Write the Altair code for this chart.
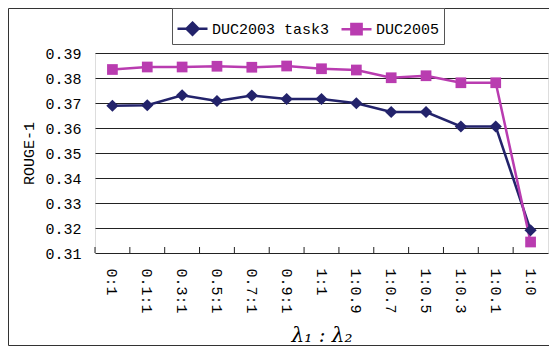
import altair as alt
import pandas as pd

# ---- data ----
lam = ["0:1", "0.1:1", "0.3:1", "0.5:1", "0.7:1", "0.9:1", "1:1",
       "1:0.9", "1:0.7", "1:0.5", "1:0.3", "1:0.1", "1:0"]
duc2003 = [0.3689, 0.3691, 0.3731, 0.3708, 0.3730, 0.3716, 0.3716,
           0.3699, 0.3664, 0.3664, 0.3606, 0.3606, 0.3191]
duc2005 = [0.3834, 0.3844, 0.3844, 0.3847, 0.3843, 0.3848, 0.3837,
           0.3832, 0.3801, 0.3809, 0.3781, 0.3781, 0.3144]
series_names = ["DUC2003 task3", "DUC2005"]
y_ticks = [0.31, 0.32, 0.33, 0.34, 0.35, 0.36, 0.37, 0.38, 0.39]

colors = ["#23236b", "#b93cb0"]
shapes = ["diamond", "square"]
legend_paths = [
    "M-1,0H1M0,-0.4L0.4,0L0,0.4L-0.4,0Z",
    "M-1,0H1M-0.34,-0.34H0.34V0.34H-0.34Z",
]

rows = []
for i, l in enumerate(lam):
    rows.append({"lam": l, "idx": i, "series": series_names[0], "value": duc2003[i]})
for i, l in enumerate(lam):
    rows.append({"lam": l, "idx": i, "series": series_names[1], "value": duc2005[i]})
df = pd.DataFrame(rows)

FONT = "Liberation Mono"

x_enc = alt.X("lam:N", sort=lam,
              scale=alt.Scale(type="band", paddingInner=0, paddingOuter=0),
              axis=alt.Axis(title="λ₁ : λ₂", labelAngle=90, labelAlign="left",
                            labelBaseline="middle", labelPadding=15, ticks=False,
                            domain=False, grid=False, labelFont=FONT, labelFontSize=15,
                            labelColor="black", titleFont="DejaVu Serif",
                            titleFontStyle="italic", titleFontWeight="normal",
                            titleFontSize=20, titleColor="black", titlePadding=12))
y_enc = alt.Y("value:Q",
              scale=alt.Scale(domain=[0.31, 0.39], zero=False, nice=False),
              axis=alt.Axis(title="ROUGE-1", values=y_ticks, format=".2f",
                            ticks=False, domain=False, grid=True, gridColor="#222",
                            gridWidth=1, gridOpacity=1, labelPadding=14,
                            labelFont=FONT, labelFontSize=15, labelColor="black",
                            titleFont=FONT, titleFontSize=15, titleFontWeight="normal",
                            titleColor="black", titlePadding=8))

cscale = alt.Scale(domain=series_names, range=colors)

base = alt.Chart(df)

lines = base.mark_line(strokeWidth=2.5).encode(
    x=x_enc, y=y_enc,
    color=alt.Color("series:N", scale=cscale, legend=None),
    order="idx:Q",
)

points = base.mark_point(filled=True, opacity=1, strokeWidth=1).encode(
    x=x_enc, y=y_enc,
    color=alt.Color("series:N", scale=cscale, legend=None),
    shape=alt.Shape("series:N", scale=alt.Scale(domain=series_names, range=shapes), legend=None),
    size=alt.Size("series:N", scale=alt.Scale(domain=series_names, range=[150, 115]), legend=None),
)

leg = alt.Legend(orient="none", legendX=77, legendY=-45, direction="horizontal",
                 title=None, symbolSize=900, symbolStrokeWidth=2.5,
                 labelFont=FONT, labelFontSize=15, labelColor="black",
                 labelOffset=3, columnPadding=6, padding=4,
                 strokeColor="#555", fillColor="white")

legend_layer = base.transform_filter("false").mark_point(filled=True, opacity=1).encode(
    x=x_enc, y=y_enc,
    color=alt.Color("series:N", scale=alt.Scale(domain=series_names, range=colors), legend=leg),
    stroke=alt.Stroke("series:N", scale=alt.Scale(domain=series_names, range=colors), legend=leg),
    shape=alt.Shape("series:N", scale=alt.Scale(domain=series_names, range=legend_paths), legend=leg),
)

ticks_df = pd.DataFrame({"lam": lam})
tick_rules = alt.Chart(ticks_df).mark_rule(color="#222", strokeWidth=1).encode(
    x=alt.X("lam:N", sort=lam, bandPosition=0,
            scale=alt.Scale(type="band", paddingInner=0, paddingOuter=0)),
    y=alt.value(200), y2=alt.value(194),
)

frame = alt.Chart(pd.DataFrame({"k": [0]})).mark_rect(
    fill=None, stroke="#333", strokeWidth=1
).encode(x=alt.value(-86.5), x2=alt.value(470), y=alt.value(-44.5), y2=alt.value(292.5))

chart = alt.layer(frame, tick_rules, lines, points, legend_layer).resolve_scale(
    color="independent", shape="independent", stroke="independent", size="independent"
).properties(
    width=453, height=200,
    autosize=alt.AutoSizeParams(type="none"),
    padding={"left": 87, "top": 45, "right": 1, "bottom": 93},
).configure_view(stroke="#555", strokeWidth=1.5).configure(background="white")

chart.save("out.html", embed_options={"renderer": "svg", "actions": False})
